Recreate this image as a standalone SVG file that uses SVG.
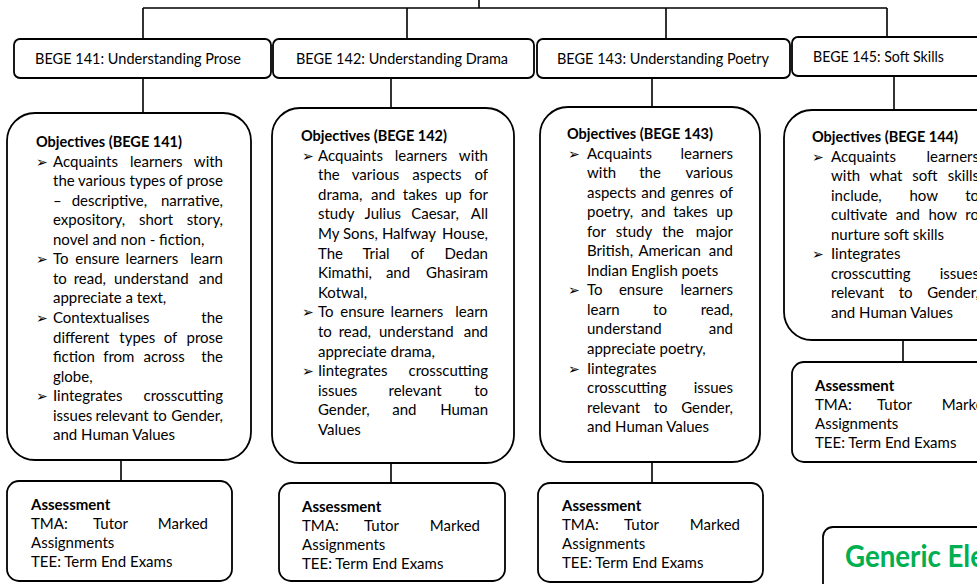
<svg xmlns="http://www.w3.org/2000/svg" width="977" height="584" viewBox="0 0 977 584">
<style>
.box{fill:#fff;stroke:#000;stroke-width:1.8}
.ln{stroke:#000;stroke-width:1.6;fill:none}
.t{font-family:Lato,"Liberation Sans",sans-serif;font-size:15px;fill:#000}
.t text.e,.e{text-anchor:end}
.b{font-weight:bold}
.bul{font-family:"DejaVu Sans",sans-serif;font-size:14px;fill:#000}
.g{font-family:Lato,"Liberation Sans",sans-serif;font-weight:bold;font-size:30px;fill:#00b050}
</style>
<rect width="977" height="584" fill="#fff"/>
<g id="connectors">
<path class="ln" d="M479 0V8M143 8H887M143 8V39M407 8V39M666 8V39M887 8V37"/>
<path class="ln" d="M143 78V113M391 78V108M652 78V108M894 76V110"/>
<path class="ln" d="M121 460V481M391 463V483M652 462V483M903 340V362"/>
</g>
<g id="h141">
<rect class="box" x="14" y="39" width="257" height="39" rx="6"/>
<text class="t" x="35" y="64" textLength="206" lengthAdjust="spacingAndGlyphs" style="font-size:15.5px">BEGE 141: Understanding Prose</text>
</g>
<g id="h142">
<rect class="box" x="273" y="39" width="261" height="39" rx="6"/>
<text class="t" x="296" y="64" textLength="212" lengthAdjust="spacingAndGlyphs" style="font-size:15.5px">BEGE 142: Understanding Drama</text>
</g>
<g id="h143">
<rect class="box" x="537" y="39" width="253" height="39" rx="6"/>
<text class="t" x="557" y="64" textLength="212" lengthAdjust="spacingAndGlyphs" style="font-size:15.5px">BEGE 143: Understanding Poetry</text>
</g>
<g id="h145">
<rect class="box" x="792" y="37" width="210" height="39" rx="6"/>
<text class="t" x="813" y="62" textLength="131" lengthAdjust="spacingAndGlyphs" style="font-size:15.5px">BEGE 145: Soft Skills</text>
</g>
<g id="o141">
<rect class="box" x="7" y="113" width="244" height="347" rx="28"/>
<text class="t b" x="36" y="147" textLength="146" lengthAdjust="spacingAndGlyphs">Objectives (BEGE 141)</text>
<text class="bul" x="36" y="166.5">➢</text>
<text class="bul" x="36" y="264.3">➢</text>
<text class="bul" x="36" y="323">➢</text>
<text class="bul" x="36" y="401.2">➢</text>
<g class="t">
<text y="166.5"><tspan x="53">Acquaints</tspan><tspan x="130">learners</tspan></text><text class="e" x="223" y="166.5">with</text>
<text y="186.1"><tspan x="53">the</tspan><tspan x="78">various</tspan><tspan x="129.6">types</tspan><tspan x="168.8">of</tspan></text><text class="e" x="223" y="186.1">prose</text>
<text y="205.6"><tspan x="53">–</tspan><tspan x="71.7">descriptive,</tspan></text><text class="e" x="223" y="205.6">narrative,</text>
<text y="225.2"><tspan x="53">expository,</tspan><tspan x="138.9">short</tspan></text><text class="e" x="223" y="225.2">story,</text>
<text x="53" y="244.7">novel and non - fiction,</text>
<text y="264.3"><tspan x="53">To</tspan><tspan x="75.3">ensure</tspan><tspan x="125.6">learners</tspan></text><text class="e" x="223" y="264.3">learn</text>
<text y="283.8"><tspan x="53">to</tspan><tspan x="73.7">read,</tspan><tspan x="114">understand</tspan></text><text class="e" x="223" y="283.8">and</text>
<text x="53" y="303.4">appreciate a text,</text>
<text x="53" y="323">Contextualises</text><text class="e" x="223" y="323">the</text>
<text y="342.5"><tspan x="53">different</tspan><tspan x="119.3">types</tspan><tspan x="163.7">of</tspan></text><text class="e" x="223" y="342.5">prose</text>
<text y="362.1"><tspan x="53">fiction</tspan><tspan x="103.2">from</tspan><tspan x="143.5">across</tspan></text><text class="e" x="223" y="362.1">the</text>
<text x="53" y="381.6">globe,</text>
<text x="53" y="401.2">Iintegrates</text><text class="e" x="223" y="401.2">crosscutting</text>
<text y="420.7"><tspan x="53">issues</tspan><tspan x="95.5">relevant</tspan><tspan x="152.9">to</tspan></text><text class="e" x="223" y="420.7">Gender,</text>
<text x="53" y="440.3">and Human Values</text>
</g>
</g>
<g id="o142">
<rect class="box" x="272" y="108" width="242" height="355" rx="28"/>
<text class="t b" x="301" y="141" textLength="146" lengthAdjust="spacingAndGlyphs">Objectives (BEGE 142)</text>
<text class="bul" x="302" y="160.5">➢</text>
<text class="bul" x="302" y="317.3">➢</text>
<text class="bul" x="302" y="375.9">➢</text>
<g class="t">
<text y="160.5"><tspan x="318">Acquaints</tspan><tspan x="394.7">learners</tspan></text><text class="e" x="488" y="160.5">with</text>
<text y="180.1"><tspan x="318">the</tspan><tspan x="351.8">various</tspan><tspan x="412.2">aspects</tspan></text><text class="e" x="488" y="180.1">of</text>
<text y="199.7"><tspan x="318">drama,</tspan><tspan x="371">and</tspan><tspan x="402.8">takes</tspan><tspan x="444.9">up</tspan></text><text class="e" x="488" y="199.7">for</text>
<text y="219.3"><tspan x="318">study</tspan><tspan x="364.5">Julius</tspan><tspan x="411.2">Caesar,</tspan></text><text class="e" x="488" y="219.3">All</text>
<text y="238.9"><tspan x="318">My</tspan><tspan x="343">Sons,</tspan><tspan x="381.9">Halfway</tspan></text><text class="e" x="488" y="238.9">House,</text>
<text y="258.5"><tspan x="318">The</tspan><tspan x="362.4">Trial</tspan><tspan x="410.7">of</tspan></text><text class="e" x="488" y="258.5">Dedan</text>
<text y="278.1"><tspan x="318">Kimathi,</tspan><tspan x="385.9">and</tspan></text><text class="e" x="488" y="278.1">Ghasiram</text>
<text x="318" y="297.7">Kotwal,</text>
<text y="317.3"><tspan x="318">To</tspan><tspan x="340.3">ensure</tspan><tspan x="390.6">learners</tspan></text><text class="e" x="488" y="317.3">learn</text>
<text y="336.9"><tspan x="318">to</tspan><tspan x="338.7">read,</tspan><tspan x="379">understand</tspan></text><text class="e" x="488" y="336.9">and</text>
<text x="318" y="356.5">appreciate drama,</text>
<text x="318" y="375.9">Iintegrates</text><text class="e" x="488" y="375.9">crosscutting</text>
<text y="395.5"><tspan x="318">issues</tspan><tspan x="388.5">relevant</tspan></text><text class="e" x="488" y="395.5">to</text>
<text y="415.1"><tspan x="318">Gender,</tspan><tspan x="392.2">and</tspan></text><text class="e" x="488" y="415.1">Human</text>
<text x="318" y="434.7">Values</text>
</g>
</g>
<g id="o143">
<rect class="box" x="540" y="107" width="220" height="355" rx="28"/>
<text class="t b" x="567" y="139" textLength="146" lengthAdjust="spacingAndGlyphs">Objectives (BEGE 143)</text>
<text class="bul" x="568" y="158.5">➢</text>
<text class="bul" x="568" y="295.3">➢</text>
<text class="bul" x="568" y="373.5">➢</text>
<g class="t">
<text x="587" y="158.5">Acquaints</text><text class="e" x="733" y="158.5">learners</text>
<text y="178"><tspan x="587">with</tspan><tspan x="639.2">the</tspan></text><text class="e" x="733" y="178">various</text>
<text y="197.5"><tspan x="587">aspects</tspan><tspan x="641.2">and</tspan><tspan x="670.5">genres</tspan></text><text class="e" x="733" y="197.5">of</text>
<text y="217"><tspan x="587">poetry,</tspan><tspan x="641.1">and</tspan><tspan x="673.2">takes</tspan></text><text class="e" x="733" y="217">up</text>
<text y="236.5"><tspan x="587">for</tspan><tspan x="615.8">study</tspan><tspan x="662.3">the</tspan></text><text class="e" x="733" y="236.5">major</text>
<text y="256"><tspan x="587">British,</tspan><tspan x="638.4">American</tspan></text><text class="e" x="733" y="256">and</text>
<text x="587" y="275.5">Indian English poets</text>
<text y="295.3"><tspan x="587">To</tspan><tspan x="618.9">ensure</tspan></text><text class="e" x="733" y="295.3">learners</text>
<text y="314.8"><tspan x="587">learn</tspan><tspan x="653.1">to</tspan></text><text class="e" x="733" y="314.8">read,</text>
<text x="587" y="334.3">understand</text><text class="e" x="733" y="334.3">and</text>
<text x="587" y="353.8">appreciate poetry,</text>
<text x="587" y="373.5">Iintegrates</text>
<text x="587" y="393">crosscutting</text><text class="e" x="733" y="393">issues</text>
<text y="412.5"><tspan x="587">relevant</tspan><tspan x="653.7">to</tspan></text><text class="e" x="733" y="412.5">Gender,</text>
<text x="587" y="432">and Human Values</text>
</g>
</g>
<g id="o144">
<rect class="box" x="784" y="110" width="230" height="230" rx="28"/>
<text class="t b" x="812" y="142" textLength="146" lengthAdjust="spacingAndGlyphs">Objectives (BEGE 144)</text>
<text class="bul" x="812" y="161.5">➢</text>
<text class="bul" x="812" y="259.3">➢</text>
<g class="t">
<text x="831" y="161.5">Acquaints</text><text class="e" x="979" y="161.5">learners</text>
<text y="181"><tspan x="831">with</tspan><tspan x="869.5">what</tspan><tspan x="912.3">soft</tspan></text><text class="e" x="979" y="181">skills</text>
<text y="200.5"><tspan x="831">include,</tspan><tspan x="909.4">how</tspan></text><text class="e" x="979" y="200.5">to</text>
<text y="220"><tspan x="831">cultivate</tspan><tspan x="895.8">and</tspan><tspan x="928.5">how</tspan></text><text class="e" x="979" y="220">ro</text>
<text x="831" y="239.5">nurture soft skills</text>
<text x="831" y="259.3">Iintegrates</text>
<text x="831" y="278.8">crosscutting</text><text class="e" x="979" y="278.8">issues</text>
<text y="298.3"><tspan x="831">relevant</tspan><tspan x="898.7">to</tspan></text><text class="e" x="979" y="298.3">Gender,</text>
<text x="831" y="317.8">and Human Values</text>
</g>
</g>
<g id="a141" class="t">
<rect class="box" x="7" y="481" width="225" height="100" rx="12"/>
<text class="b" x="31" y="510">Assessment</text>
<text y="529"><tspan x="31">TMA:</tspan><tspan x="93">Tutor</tspan></text><text class="e" x="208" y="529">Marked</text>
<text x="31" y="548">Assignments</text>
<text x="31" y="567">TEE: Term End Exams</text>
</g>
<g id="a142" class="t">
<rect class="box" x="279" y="483" width="226" height="98" rx="12"/>
<text class="b" x="302" y="512">Assessment</text>
<text y="531"><tspan x="302">TMA:</tspan><tspan x="364">Tutor</tspan></text><text class="e" x="480" y="531">Marked</text>
<text x="302" y="550">Assignments</text>
<text x="302" y="569">TEE: Term End Exams</text>
</g>
<g id="a143" class="t">
<rect class="box" x="538" y="483" width="225" height="99" rx="12"/>
<text class="b" x="562" y="511">Assessment</text>
<text y="530"><tspan x="562">TMA:</tspan><tspan x="624">Tutor</tspan></text><text class="e" x="740" y="530">Marked</text>
<text x="562" y="549">Assignments</text>
<text x="562" y="568">TEE: Term End Exams</text>
</g>
<g id="a145" class="t">
<rect class="box" x="792" y="362" width="225" height="100" rx="12"/>
<text class="b" x="815" y="391">Assessment</text>
<text y="410"><tspan x="815">TMA:</tspan><tspan x="877">Tutor</tspan></text><text class="e" x="992" y="410">Marked</text>
<text x="815" y="429">Assignments</text>
<text x="815" y="448">TEE: Term End Exams</text>
</g>
<g id="generic">
<rect class="box" x="823" y="527" width="200" height="80" rx="10"/>
<text class="g" x="845" y="567" textLength="140" lengthAdjust="spacingAndGlyphs">Generic Ele</text>
</g>
</svg>
